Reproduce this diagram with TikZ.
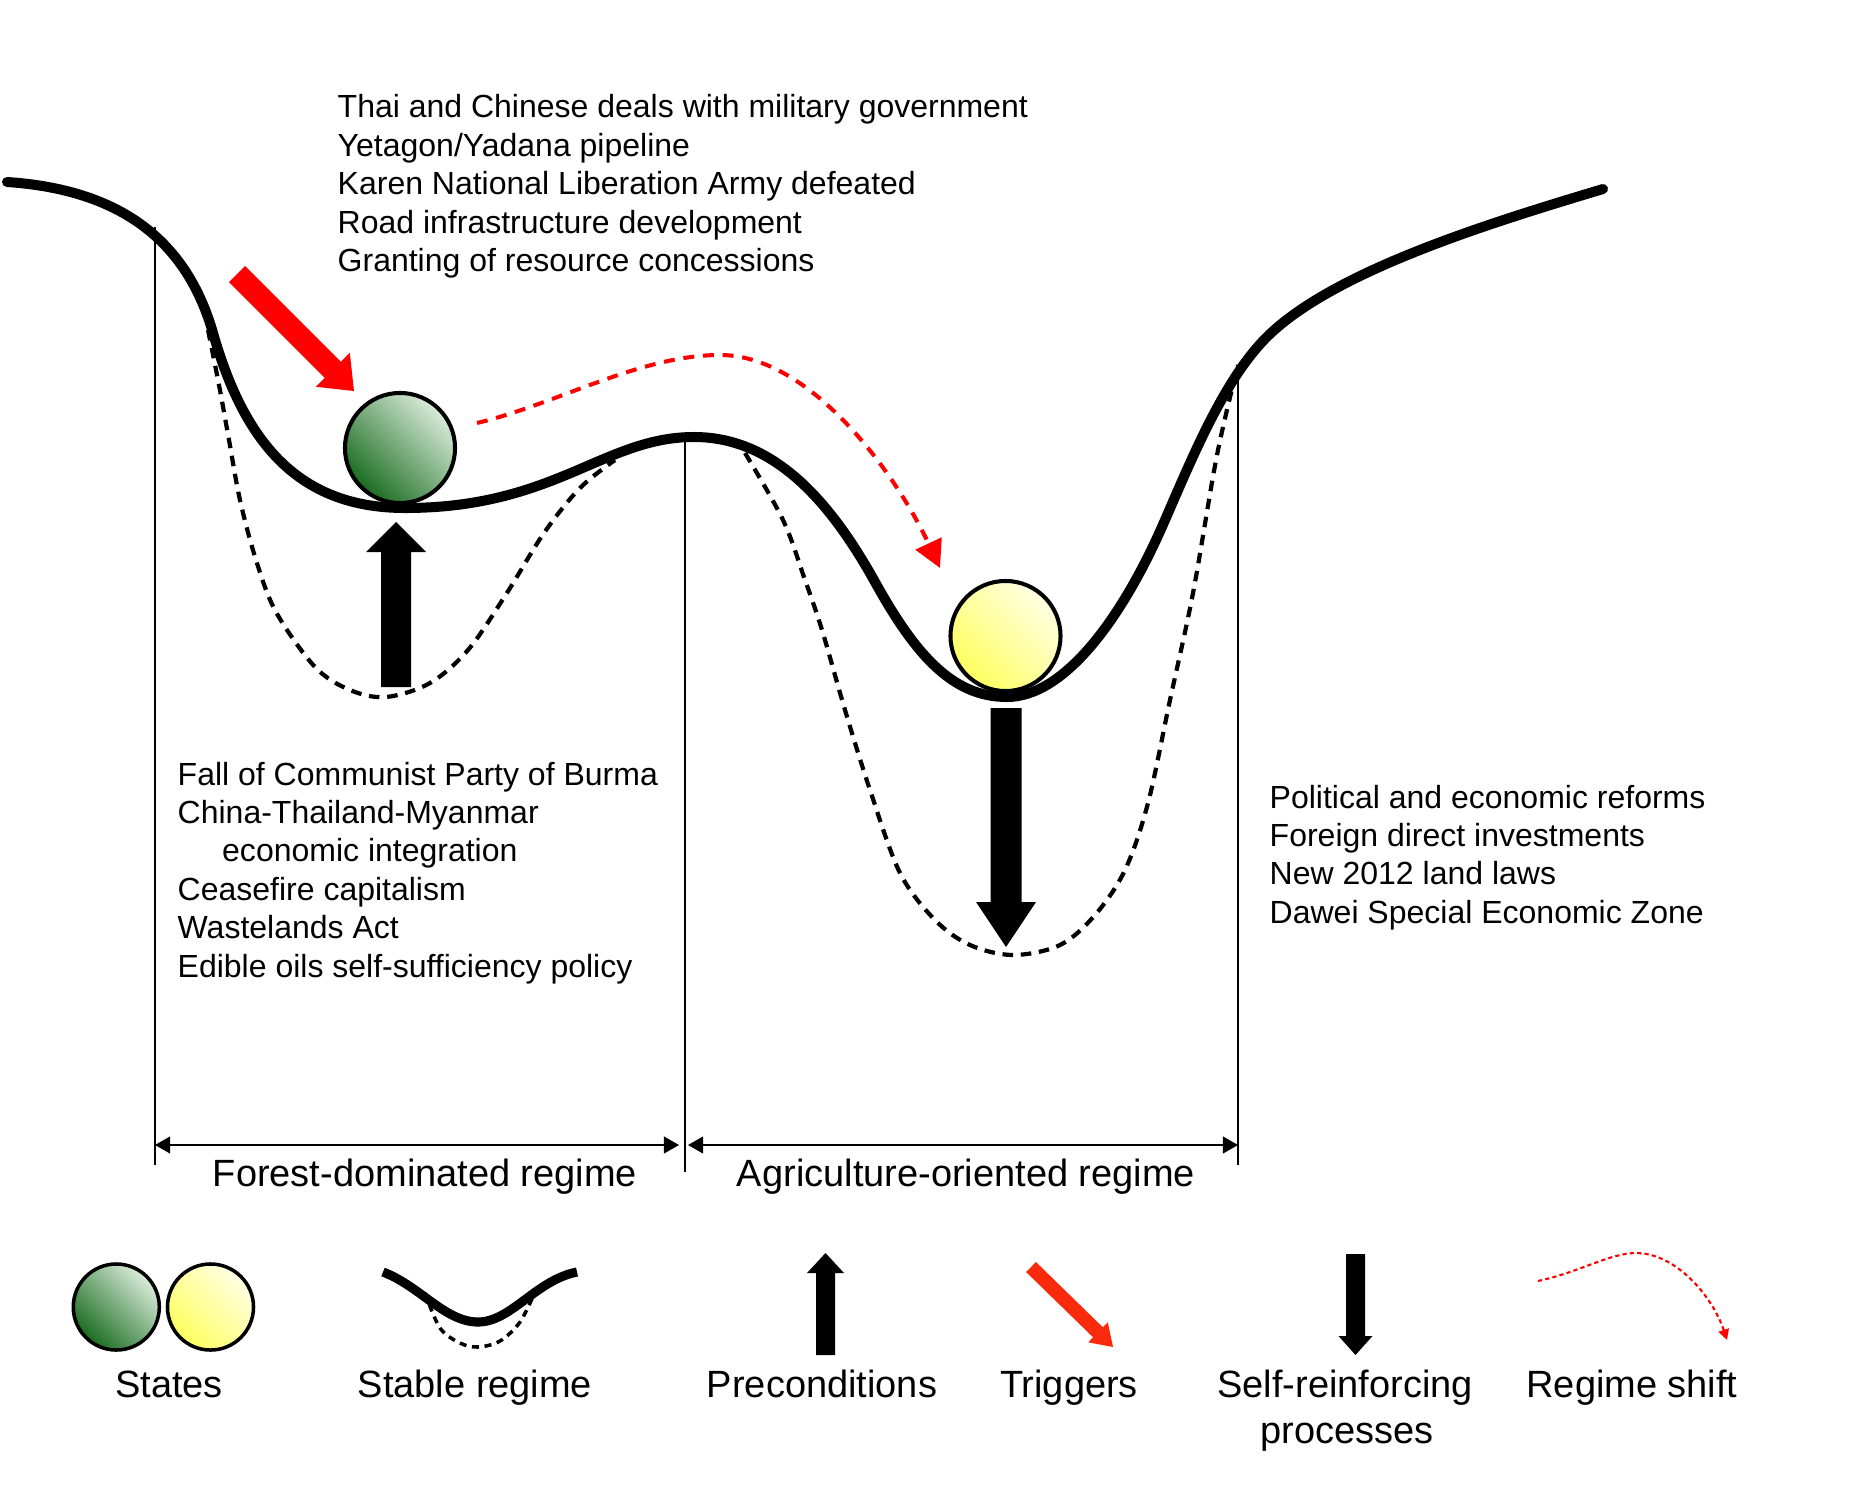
\documentclass[tikz,border=0pt]{standalone}
\usepackage{fontspec}
\setmainfont{Liberation Sans}
\usetikzlibrary{arrows.meta}
\definecolor{gdark}{RGB}{25,108,32}
\definecolor{glight}{RGB}{218,236,218}
\definecolor{ydark}{RGB}{255,255,95}
\definecolor{ylight}{RGB}{255,255,228}
\definecolor{legred}{RGB}{250,42,12}
\begin{document}
\begin{tikzpicture}[x=0.01cm,y=-0.01cm,
  landscape/.style={line width=2.85pt, line cap=round, line join=round},
  deepwell/.style={line width=1.2pt, dash pattern=on 3pt off 2.2pt},
  shiftpath/.style={red, line width=1.15pt, dash pattern=on 3.1pt off 2.5pt,
     -{Triangle[length=7.7pt,width=8pt]}},
  guide/.style={line width=0.35pt},
  dimline/.style={line width=0.4pt, {Triangle[length=4.3pt,width=4.8pt]}-{Triangle[length=4.3pt,width=4.8pt]}},
  greenball/.style={circle, draw=black, line width=1.15pt, inner sep=0pt, outer sep=0pt,
     top color=glight, bottom color=gdark, shading angle=-45},
  yellowball/.style={circle, draw=black, line width=1.15pt, inner sep=0pt, outer sep=0pt,
     top color=ylight, bottom color=ydark, shading angle=-45},
  bodytext/.style={font=\fontsize{9.1}{11}\selectfont, anchor=base west, inner sep=0pt},
  labeltext/.style={font=\fontsize{10.8}{13}\selectfont, anchor=base, inner sep=0pt}
]
\useasboundingbox (0,0) rectangle (1852,1485);
\fill[white] (0,0) rectangle (1852,1485);

% guide lines
\coordinate (g1t) at (155,227);  \coordinate (g1b) at (155,1165);
\coordinate (g2t) at (685,436);  \coordinate (g2b) at (685,1172);
\coordinate (g3t) at (1238,367); \coordinate (g3b) at (1238,1165);
\draw[guide] (g1t) -- (g1b);
\draw[guide] (g2t) -- (g2b);
\draw[guide] (g3t) -- (g3b);

% dimension arrows
\coordinate (d1a) at (155,1145); \coordinate (d1b) at (679,1145);
\coordinate (d2a) at (688,1145); \coordinate (d2b) at (1238,1145);
\draw[dimline] (d1a) -- (d1b);
\draw[dimline] (d2a) -- (d2b);

% deep (dashed) wells
\draw[deepwell] plot[smooth, tension=0.55] coordinates {
 (208,330) (219,385) (229,440) (240,500) (256,560) (276,612) (315,667) (350,690)
 (386,697) (430,683) (468,650) (505,596) (544,533) (580,488) (615,460)};
\draw[deepwell] plot[smooth, tension=0.55] coordinates {
 (745,453) (783,520) (805,580) (822,630) (845,710) (870,790) (900,873) (935,920)
 (970,945) (1013,955) (1060,945) (1095,915) (1125,870) (1148,803) (1170,700)
 (1193,593) (1217,455) (1238,365)};

% main landscape
\draw[landscape] (7,182) .. controls (127,190) and (188,246) .. (213,333)
 .. controls (243,438) and (295,508) .. (405,508)
 .. controls (555,508) and (604,437) .. (694,437)
 .. controls (774,437) and (830,501) .. (875,582)
 .. controls (915,654) and (952,697) .. (1007,697)
 .. controls (1062,697) and (1120,624) .. (1165,520)
 .. controls (1192,458) and (1222,385) .. (1262,342)
 .. controls (1325,274) and (1483,225) .. (1603,189);

% regime shift
\draw[shiftpath] (477,423) .. controls (557,404) and (640,355) .. (720,355)
 .. controls (810,355) and (895,472) .. (940,568);

% balls
\node[greenball, minimum size=1.10cm] (ballA) at (400,448) {};
\node[yellowball, minimum size=1.10cm] (ballB) at (1005.5,636) {};

% trigger arrow
\fill[red] (245.1,265.9) -- (340.9,361.7) -- (349.8,352.8) -- (354,391)
  -- (315.8,386.8) -- (324.7,377.9) -- (228.9,282.1) -- cycle;

% precondition arrow
\fill (381,687) -- (381,552) -- (366,552) -- (396,522) -- (426,552) -- (411,552) -- (411,687) -- cycle;

% self-reinforcing arrow
\fill (990.5,708) -- (990.5,902) -- (976,902) -- (1006,947) -- (1036,902) -- (1021.5,902) -- (1021.5,708) -- cycle;

% top text
\node[bodytext] (t1) at (337,118) {Thai and Chinese deals with military government};
\node[bodytext] (t2) at (337,156.4) {Yetagon/Yadana pipeline};
\node[bodytext] (t3) at (337,194.8) {Karen National Liberation Army defeated};
\node[bodytext] (t4) at (337,233.2) {Road infrastructure development};
\node[bodytext] (t5) at (337,271.6) {Granting of resource concessions};

% left text
\node[bodytext] (l1) at (177,785) {Fall of Communist Party of Burma};
\node[bodytext] (l2) at (177,823.4) {China-Thailand-Myanmar};
\node[bodytext] (l3) at (221.5,861.8) {economic integration};
\node[bodytext] (l4) at (177,900.2) {Ceasefire capitalism};
\node[bodytext] (l5) at (177,938.6) {Wastelands Act};
\node[bodytext] (l6) at (177,977) {Edible oils self-sufficiency policy};

% right text
\node[bodytext] (r1) at (1269,808) {Political and economic reforms};
\node[bodytext] (r2) at (1269,846.4) {Foreign direct investments};
\node[bodytext] (r3) at (1269,884.8) {New 2012 land laws};
\node[bodytext] (r4) at (1269,923.2) {Dawei Special Economic Zone};

% regime labels
\node[labeltext] (forest) at (425,1186) {Forest-dominated regime};
\node[labeltext] (agri) at (966,1186) {Agriculture-oriented regime};

% ---------------- legend ----------------
\node[greenball, minimum size=0.86cm, line width=1.0pt] (legA) at (116.3,1307) {};
\node[yellowball, minimum size=0.86cm, line width=1.0pt] (legB) at (210.5,1307) {};
\node[labeltext] (labStates) at (169,1397) {States};

\draw[line width=1pt, dash pattern=on 2pt off 1.6pt] plot[smooth, tension=0.55] coordinates {
 (425,1293) (440,1328) (460,1343) (478,1347) (500,1341) (520,1322) (535,1292)};
\draw[line width=2.6pt, line join=round] (383,1272) .. controls (420,1286) and (445,1322) .. (478,1322)
 .. controls (511,1322) and (536,1280) .. (577,1272);
\node[labeltext] (labStable) at (475,1397) {Stable regime};

\fill (816,1355) -- (816,1273) -- (807,1273) -- (825.5,1253) -- (844,1273) -- (835,1273) -- (835,1355) -- cycle;
\node[labeltext] (labPre) at (822,1397) {Preconditions};

\fill[legred] (1035.9,1262) -- (1102.9,1327.3) -- (1107.8,1322.3) -- (1113,1347)
  -- (1088.2,1342.3) -- (1093.1,1337.3) -- (1026.1,1272) -- cycle;
\node[labeltext] (labTrig) at (1069,1397) {Triggers};

\fill (1346,1254) -- (1346,1336) -- (1338.5,1336) -- (1355.5,1355) -- (1372.5,1336) -- (1365,1336) -- (1365,1254) -- cycle;
\node[labeltext] (labSelf1) at (1345,1397) {Self-reinforcing};
\node[labeltext] (labSelf2) at (1347,1443) {processes};

\draw[red, line width=0.6pt, dash pattern=on 1.2pt off 0.9pt, -{Triangle[length=3pt,width=3pt]}]
  (1538,1281) .. controls (1580,1272) and (1610,1253) .. (1636,1253)
  .. controls (1675,1253) and (1712,1295) .. (1727,1340);
\node[labeltext] (labShift) at (1632,1397) {Regime shift};
\end{tikzpicture}
\end{document}
